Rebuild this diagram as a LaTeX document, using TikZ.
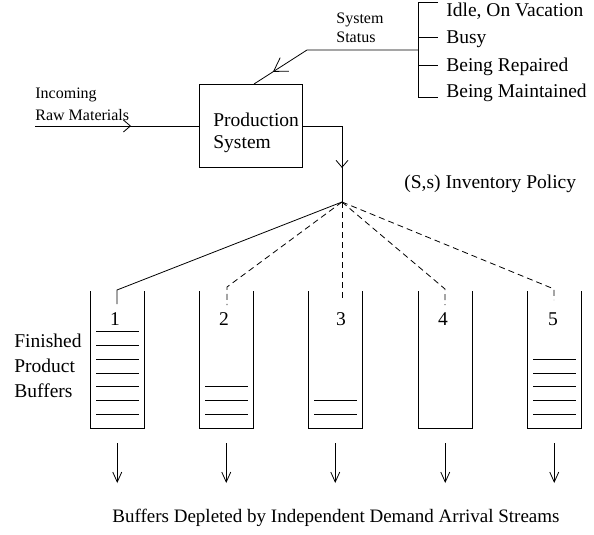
\documentclass[tikz,border=0pt]{standalone}
\usepackage{fontspec}
\setmainfont{Liberation Serif}
\usetikzlibrary{arrows.meta,decorations.markings}
\begin{document}
\begin{tikzpicture}[x=1pt,y=-1pt,line width=0.8pt,
  big/.style={font=\fontsize{19.5}{23}\selectfont,inner sep=0pt},
  small/.style={font=\fontsize{16}{19}\selectfont,inner sep=0pt},
  dlink/.style={dash pattern=on 6pt off 4pt},
  buf/.style={line width=0.9pt},
  shelf/.style={line width=0.8pt},
  marrow/.style n args={3}{postaction={decorate},decoration={markings,
     mark=at position #1 with {\arrow{Straight Barb[length=#2,width=#3]}}}},
  demand/.style={-{Straight Barb[length=10pt,width=9pt]}}]
\useasboundingbox (0,0) rectangle (594,535);

% production system box
\node[draw,line width=0.9pt,minimum width=103pt,minimum height=83pt,inner sep=0pt,anchor=north west] (ps) at (199,84) {};
\node[big,anchor=base west,align=left] (psl) at (213,126) {Production};
\node[big,anchor=base west] (psl2) at (213,148) {System};

% incoming
\coordinate (inc) at (35,126);
\node[small,anchor=base west] (tinc) at (35,99) {Incoming};
\node[small,anchor=base west] (traw) at (35,120) {Raw Materials};
\draw[marrow={96pt}{7pt}{12pt}] (inc) -- (inc -| ps.west);

% output to fan
\coordinate (corner) at (342,126);
\coordinate (fan) at (342,202);
\draw[marrow={81pt}{7pt}{12pt}] (corner -| ps.east) -- (corner) -- (fan);

% status bracket
\coordinate (brt) at (418,2);
\coordinate (brb) at (418,97);
\coordinate (br1) at (438,2);
\coordinate (br2) at (438,37);
\coordinate (br3) at (438,65);
\coordinate (br4) at (438,97);
\coordinate (brm) at (418,50);
\coordinate (sbend) at (307,50);
\coordinate (stop) at (254,84);
\draw (br1) -- (brt) -- (brb) -- (br4);
\draw (418,37) -- (br2);
\draw (418,65) -- (br3);
\draw[marrow={151.5pt}{13pt}{16pt}] (brm) -- (sbend) -- (stop);
\node[small,anchor=base west] (tsys) at (336,24) {System};
\node[small,anchor=base west] (tstat) at (336,43) {Status};
\node[big,anchor=base west] (s1) at (446,17) {Idle, On Vacation};
\node[big,anchor=base west] (s2) at (446,44) {Busy};
\node[big,anchor=base west] (s3) at (446,71) {Being Repaired};
\node[big,anchor=base west] (s4) at (446,97) {Being Maintained};

\node[big,anchor=base west] (pol) at (404,188) {(S,s) Inventory Policy};

% buffers
\foreach \i/\xl/\n in {1/90/7,2/199/3,3/308/2,4/418/0,5/527/5}{
  \draw[buf] (\xl,291) -- (\xl,428) -- (\xl+54.5,428) -- (\xl+54.5,291);
  \ifnum\n>0
    \foreach \k in {1,...,\n}{
      \draw[shelf] (\xl+6,{414-13.7*(\k-1)}) -- (\xl+48.5,{414-13.7*(\k-1)});
    }
  \fi
  \coordinate (dt\i) at (\xl+27.25,443);
  \coordinate (db\i) at (\xl+27.25,483);
  \draw[demand] (dt\i) -- (db\i);
}

% numbers
\node[big,anchor=base] (n1) at (115,325) {1};
\node[big,anchor=base] (n2) at (224,325) {2};
\node[big,anchor=base] (n3) at (341,325) {3};
\node[big,anchor=base] (n4) at (443,325) {4};
\node[big,anchor=base] (n5) at (553,325) {5};

% fan connectors
\coordinate (c1a) at (117,290); \coordinate (c1b) at (117,304);
\coordinate (c2a) at (227,287); \coordinate (c2b) at (227,305);
\coordinate (c3b) at (342,300);
\coordinate (c4a) at (445,289); \coordinate (c4b) at (445,305);
\coordinate (c5a) at (554,289); \coordinate (c5b) at (554,300);
\draw (fan) -- (c1a) -- (c1b);
\draw[dlink] (fan) -- (c2a) -- (c2b);
\draw[dlink] (fan) -- (c3b);
\draw[dlink] (fan) -- (c4a) -- (c4b);
\draw[dlink] (fan) -- (c5a) -- (c5b);

% left label
\node[big,anchor=base west] (f1) at (14,347) {Finished};
\node[big,anchor=base west] (f2) at (14,372) {Product};
\node[big,anchor=base west] (f3) at (14,397) {Buffers};

% bottom label
\node[big,font=\fontsize{19}{23}\selectfont,anchor=base] (bot) at (336,522) {Buffers Depleted by Independent Demand Arrival Streams};
\end{tikzpicture}
\end{document}
